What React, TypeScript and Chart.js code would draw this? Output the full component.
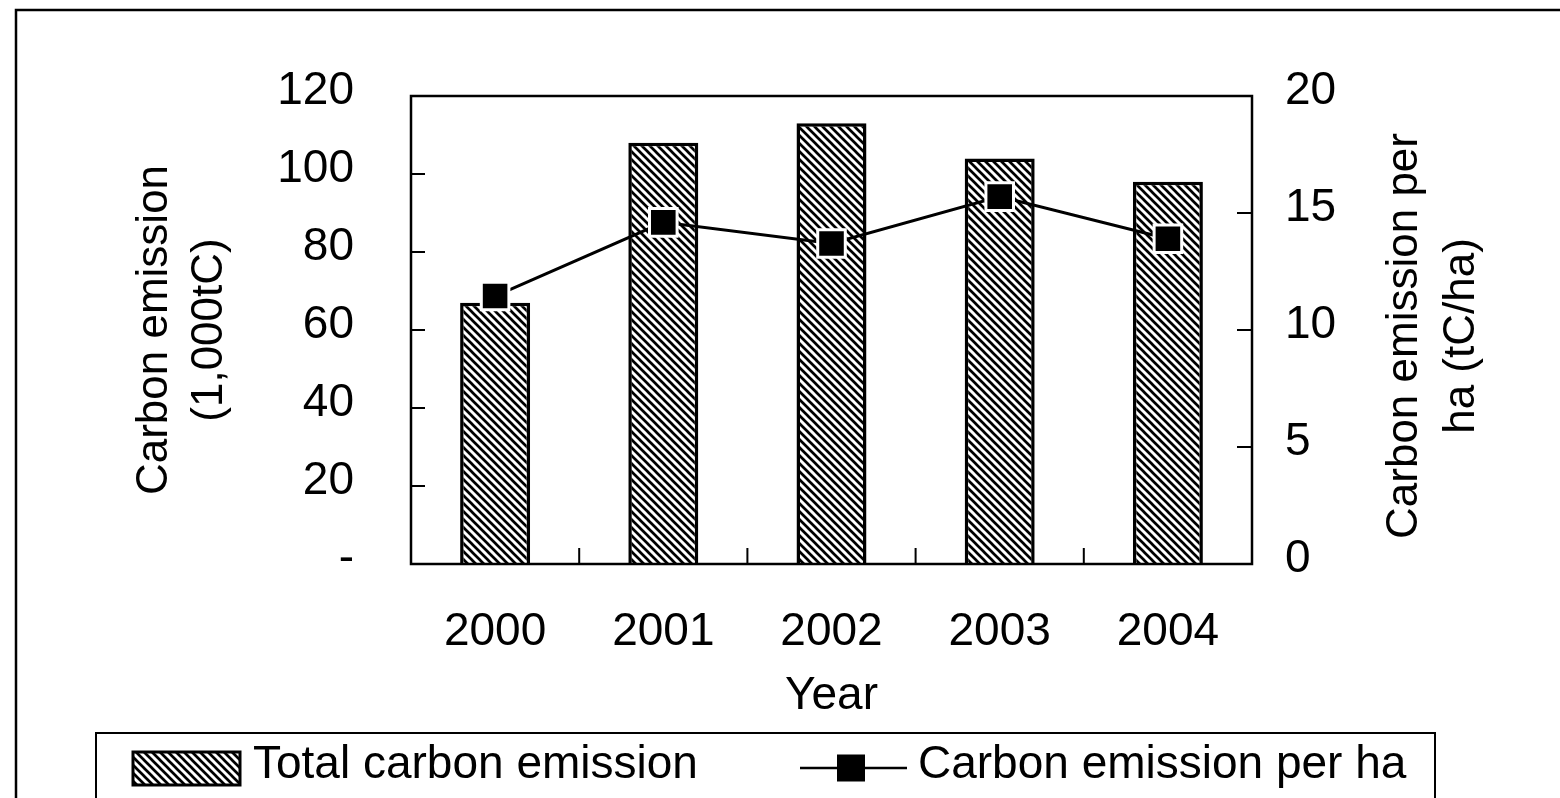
import React, { useEffect, useRef } from 'react';
import { Chart, registerables } from 'chart.js';

Chart.register(...registerables);

const years = ['2000', '2001', '2002', '2003', '2004'];
const totalEmission = [67, 108, 113, 104, 98];
const emissionPerHa = [11.45, 14.6, 13.7, 15.7, 13.9];
const leftTickValues = [0, 20, 40, 60, 80, 100, 120];
const rightTickValues = [0, 5, 10, 15, 20];
const totalLabel = 'Total carbon emission';
const perHaLabel = 'Carbon emission per ha';
const leftTitle = ['Carbon emission', '(1,000tC)'];
const rightTitle = ['Carbon emission per', 'ha (tC/ha)'];
const xTitle = 'Year';

const FONT = '"Liberation Sans", Arial, sans-serif';
const W = 1560;
const H = 798;

function makeHatch(): CanvasPattern | string {
  const c = document.createElement('canvas');
  const p = 8;
  c.width = p;
  c.height = p;
  const g = c.getContext('2d');
  if (!g) return '#888';
  g.fillStyle = '#fff';
  g.fillRect(0, 0, p, p);
  g.strokeStyle = '#000';
  g.lineWidth = 2.7;
  g.beginPath();
  g.moveTo(-2, -2);
  g.lineTo(p + 2, p + 2);
  g.moveTo(-2, p - 2);
  g.lineTo(2, p + 2);
  g.moveTo(p - 2, -2);
  g.lineTo(p + 2, 2);
  g.stroke();
  return g.createPattern(c, 'repeat') || '#888';
}

export default function App() {
  const ref = useRef<HTMLCanvasElement | null>(null);

  useEffect(() => {
    const canvas = ref.current;
    if (!canvas) return;
    const hatch = makeHatch();

    const decor = {
      id: 'decor',
      beforeDraw(chart: any) {
        const ctx = chart.ctx;
        ctx.save();
        ctx.fillStyle = '#fff';
        ctx.fillRect(0, 0, chart.width, chart.height);
        ctx.restore();
      },
      afterDatasetsDraw(chart: any) {
        const ctx = chart.ctx;
        const a = chart.chartArea;
        const x = chart.scales.x;
        const yl = chart.scales.y;
        const yr = chart.scales.y1;
        ctx.save();
        ctx.strokeStyle = '#000';
        ctx.lineWidth = 2;
        ctx.beginPath();
        yl.ticks.forEach((t: any) => {
          const py = yl.getPixelForValue(t.value);
          ctx.moveTo(a.left, py);
          ctx.lineTo(a.left + 14, py);
        });
        yr.ticks.forEach((t: any) => {
          const py = yr.getPixelForValue(t.value);
          ctx.moveTo(a.right, py);
          ctx.lineTo(a.right - 15, py);
        });
        for (let i = 0; i < years.length - 1; i++) {
          const px = (x.getPixelForTick(i) + x.getPixelForTick(i + 1)) / 2;
          ctx.moveTo(px, a.bottom);
          ctx.lineTo(px, a.bottom - 16);
        }
        ctx.stroke();
        ctx.lineWidth = 2.5;
        ctx.strokeRect(a.left, a.top, a.right - a.left, a.bottom - a.top);
        ctx.restore();
      },
      afterDraw(chart: any) {
        const ctx = chart.ctx;
        const a = chart.chartArea;
        ctx.save();
        ctx.strokeStyle = '#000';
        ctx.lineWidth = 2.5;
        ctx.beginPath();
        ctx.moveTo(16, H + 5);
        ctx.lineTo(16, 10);
        ctx.lineTo(W + 5, 10);
        ctx.stroke();

        // right axis title (reads bottom to top)
        ctx.fillStyle = '#000';
        ctx.font = `44px ${FONT}`;
        ctx.textAlign = 'center';
        ctx.textBaseline = 'middle';
        const cy = (a.top + a.bottom) / 2 + 6;
        ctx.save();
        ctx.translate(1405, cy);
        ctx.rotate(-Math.PI / 2);
        ctx.fillText(rightTitle[0], 0, 0);
        ctx.fillText(rightTitle[1], 0, 57);
        ctx.restore();

        // legend
        const dsBar = chart.data.datasets.find((d: any) => d.type === 'bar');
        const dsLine = chart.data.datasets.find((d: any) => d.type === 'line');
        ctx.lineWidth = 2;
        ctx.strokeRect(96, 733, 1339, 100);
        ctx.fillStyle = hatch as any;
        ctx.fillRect(133, 752, 107, 33);
        ctx.lineWidth = 3;
        ctx.strokeRect(133, 752, 107, 33);
        ctx.fillStyle = '#000';
        ctx.font = `46px ${FONT}`;
        ctx.textAlign = 'left';
        ctx.textBaseline = 'alphabetic';
        ctx.fillText(dsBar.label, 253, 778);
        ctx.lineWidth = 2.5;
        ctx.beginPath();
        ctx.moveTo(800, 768);
        ctx.lineTo(907, 768);
        ctx.stroke();
        ctx.fillRect(851 - 14, 768 - 13.5, 28, 27);
        ctx.fillText(dsLine.label, 918, 778);
        ctx.restore();
      },
    };

    const chart = new Chart(canvas, {
      type: 'bar',
      data: {
        labels: years,
        datasets: [
          {
            type: 'line',
            label: perHaLabel,
            data: emissionPerHa,
            yAxisID: 'y1',
            order: 0,
            borderColor: '#000',
            borderWidth: 3,
            pointStyle: 'rect',
            pointRadius: 19.5,
            pointHoverRadius: 19.5,
            pointBackgroundColor: '#000',
            pointBorderColor: '#fff',
            pointBorderWidth: 3,
            tension: 0,
          } as any,
          {
            type: 'bar',
            label: totalLabel,
            data: totalEmission,
            yAxisID: 'y',
            order: 1,
            backgroundColor: hatch as any,
            borderColor: '#000',
            borderWidth: 3.5,
            categoryPercentage: 1,
            barPercentage: 0.416,
          },
        ],
      },
      options: {
        responsive: false,
        animation: false,
        events: [],
        layout: { padding: { top: 96, bottom: 58, left: 0, right: 0 } },
        plugins: {
          legend: { display: false },
          tooltip: { enabled: false },
          title: { display: false },
        },
        scales: {
          x: {
            type: 'category',
            offset: true,
            grid: { display: false, drawTicks: false },
            border: { display: false },
            ticks: {
              color: '#000',
              font: { family: FONT, size: 46 },
              padding: 41,
              maxRotation: 0,
            },
            title: {
              display: true,
              text: xTitle,
              color: '#000',
              font: { family: FONT, size: 46 },
              padding: { top: 0, bottom: 16 },
            },
            afterFit(scale: any) {
              scale.height = 176;
            },
          },
          y: {
            position: 'left',
            min: 0,
            max: 120,
            afterBuildTicks(scale: any) {
              scale.ticks = leftTickValues.map((v) => ({ value: v }));
            },
            grid: { display: false, drawTicks: false },
            border: { display: false },
            ticks: {
              color: '#000',
              font: { family: FONT, size: 46 },
              padding: 57,
              labelOffset: -5,
              callback: (v: any) => (Number(v) === 0 ? '-' : String(v)),
            },
            title: {
              display: true,
              text: leftTitle,
              color: '#000',
              font: { family: FONT, size: 44, lineHeight: 1.25 },
              padding: { top: 127, bottom: 0 },
            },
            afterFit(scale: any) {
              scale.width = 411;
            },
          },
          y1: {
            position: 'right',
            min: 0,
            max: 20,
            afterBuildTicks(scale: any) {
              scale.ticks = rightTickValues.map((v) => ({ value: v }));
            },
            grid: { display: false, drawTicks: false },
            border: { display: false },
            ticks: {
              color: '#000',
              font: { family: FONT, size: 46 },
              padding: 33,
              labelOffset: -5,
              callback: (v: any) => String(v),
            },
            afterFit(scale: any) {
              scale.width = 308;
            },
          },
        },
      } as any,
      plugins: [decor],
    });

    return () => {
      chart.destroy();
    };
  }, []);

  return (
    <div style={{ position: 'fixed', left: 0, top: 0, width: W, height: H, background: '#fff' }}>
      <canvas ref={ref} width={W} height={H} style={{ width: W, height: H, display: 'block' }} />
    </div>
  );
}
